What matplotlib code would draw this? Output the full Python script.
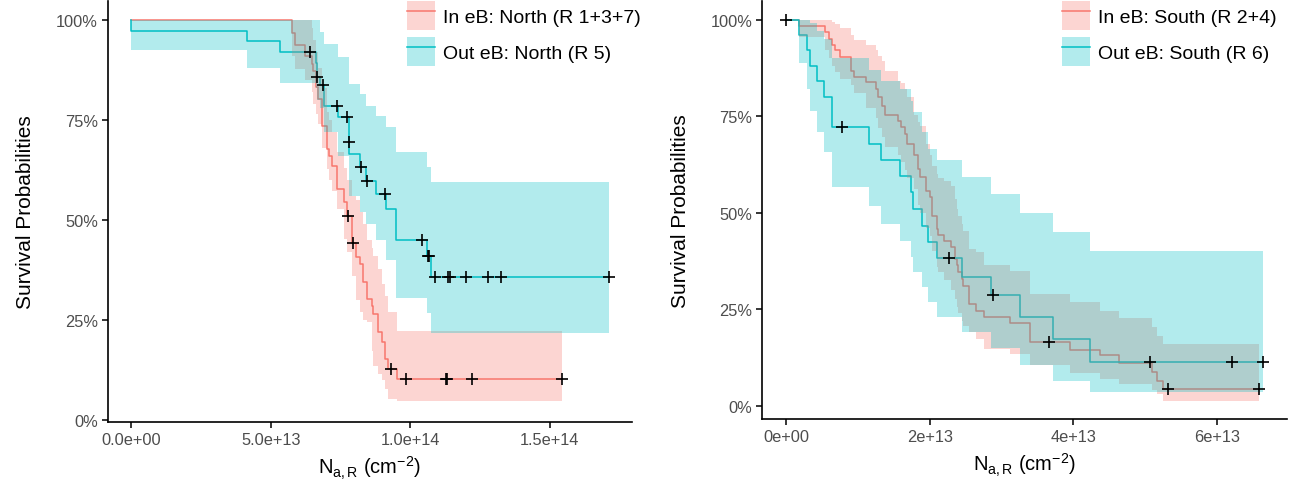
import numpy as np
import matplotlib
matplotlib.use("Agg")
import matplotlib.pyplot as plt
from matplotlib.patches import Patch
from matplotlib.lines import Line2D

plt.rcParams['font.family'] = ['Liberation Sans', 'DejaVu Sans']
plt.rcParams['mathtext.fontset'] = 'custom'
plt.rcParams['mathtext.rm'] = 'Liberation Sans'
plt.rcParams['mathtext.it'] = 'Liberation Sans:italic'

SCALE = 1e13
red = "#F8766D"
teal = "#00BFC4"
tick_grey = "#4D4D4D"

# ---- North panel (x in units of 1e13) ----
n_in_t = [5.75, 5.87, 6.23, 6.47, 6.53, 6.62, 6.70, 6.83, 7.01, 7.10, 7.19, 7.37, 7.63, 7.72, 7.90,
          8.06, 8.20, 8.32, 8.44, 8.62, 8.68, 8.86, 8.98, 9.10, 9.21, 9.52]
n_in_s = [0.967, 0.937, 0.91, 0.889, 0.873, 0.831, 0.802, 0.735, 0.677, 0.66, 0.635, 0.577, 0.544, 0.51, 0.442,
          0.406, 0.39, 0.344, 0.302, 0.286, 0.265, 0.219, 0.194, 0.153, 0.127, 0.102]
n_in_lo = [0.91, 0.877, 0.85, 0.82, 0.79, 0.765, 0.74, 0.68, 0.627, 0.60, 0.573, 0.527, 0.452, 0.42, 0.36,
           0.30, 0.269, 0.25, 0.244, 0.173, 0.136, 0.115, 0.10, 0.077, 0.052, 0.047]
n_in_hi = [1.0, 1.0, 1.0, 0.98, 0.95, 0.92, 0.88, 0.83, 0.77, 0.75, 0.72, 0.67, 0.63, 0.60, 0.56,
           0.55, 0.52, 0.49, 0.45, 0.43, 0.41, 0.377, 0.34, 0.31, 0.27, 0.223]
n_in_end = 15.46
n_in_cens_t = [7.78, 7.94, 9.31, 9.84, 11.29, 11.32, 12.23, 15.46]

n_out_t = [0.0, 4.13, 5.33, 6.62, 6.65, 6.77, 6.91, 7.42, 7.79, 7.82, 8.20, 8.40, 8.77, 9.12, 9.49, 10.60, 10.75]
n_out_s = [0.973, 0.946, 0.919, 0.893, 0.856, 0.838, 0.785, 0.756, 0.694, 0.665, 0.631, 0.598, 0.565, 0.527,
           0.450, 0.409, 0.358]
n_out_lo = [0.924, 0.879, 0.841, 0.83, 0.80, 0.78, 0.72, 0.66, 0.59, 0.56, 0.52, 0.49, 0.45, 0.40,
            0.305, 0.267, 0.217]
n_out_hi = [1.0, 1.0, 1.0, 1.0, 1.0, 0.97, 0.94, 0.906, 0.86, 0.839, 0.814, 0.785, 0.76, 0.731,
            0.669, 0.631, 0.594]
n_out_end = 17.14
n_out_cens_t = [6.41, 6.67, 6.86, 7.37, 7.75, 7.81, 8.24, 8.44, 9.08, 10.44, 10.65, 10.68,
                10.89, 11.37, 11.43, 12.00, 12.81, 13.26, 17.14]

# ---- South panel ----
s_in_t = [0.18, 0.54, 0.60, 0.64, 0.68, 0.75, 0.91, 0.94, 1.11, 1.25, 1.28, 1.33, 1.38, 1.56, 1.60,
          1.66, 1.68, 1.78, 1.84, 1.86, 1.95, 2.01, 2.03, 2.10, 2.12, 2.20, 2.30, 2.35, 2.38, 2.40,
          2.45, 2.47, 2.54, 2.65, 2.76, 3.12, 3.39, 3.95, 4.37, 4.64, 5.09, 5.16, 5.25]
s_in_s = [0.984, 0.969, 0.95, 0.934, 0.92, 0.903, 0.868, 0.851, 0.838, 0.82, 0.799, 0.777, 0.753, 0.738,
          0.721, 0.704, 0.678, 0.648, 0.613, 0.592, 0.557, 0.54, 0.492, 0.458, 0.442, 0.427, 0.41, 0.38,
          0.363, 0.346, 0.328, 0.311, 0.263, 0.246, 0.229, 0.214, 0.164, 0.145, 0.13, 0.11, 0.087,
          0.065, 0.043]
s_in_lo = [0.954, 0.92, 0.90, 0.88, 0.865, 0.846, 0.83, 0.81, 0.77, 0.745, 0.72, 0.695, 0.67, 0.648,
           0.63, 0.61, 0.59, 0.56, 0.52, 0.50, 0.46, 0.44, 0.40, 0.36, 0.345, 0.325, 0.30, 0.275,
           0.255, 0.24, 0.22, 0.205, 0.19, 0.173, 0.147, 0.134, 0.104, 0.085, 0.07, 0.055, 0.04,
           0.03, 0.013]
s_in_hi = [1.0, 1.0, 1.0, 0.995, 0.989, 0.978, 0.959, 0.946, 0.934, 0.92, 0.905, 0.894, 0.868, 0.842,
           0.835, 0.82, 0.80, 0.753, 0.735, 0.725, 0.678, 0.65, 0.62, 0.60, 0.59, 0.583, 0.57, 0.535,
           0.51, 0.492, 0.47, 0.453, 0.406, 0.397, 0.363, 0.35, 0.29, 0.268, 0.246, 0.226, 0.203,
           0.181, 0.16]
s_in_end = 6.58
s_in_cens_t = [3.66, 5.31, 6.58]

s_out_t = [0.18, 0.29, 0.33, 0.43, 0.53, 0.64, 1.16, 1.32, 1.59, 1.74, 1.77, 1.89, 1.97, 2.10,
           2.45, 2.85, 3.26, 3.71, 4.23]
s_out_s = [0.960, 0.92, 0.879, 0.840, 0.799, 0.721, 0.678, 0.635, 0.596, 0.553, 0.51, 0.466, 0.423,
           0.382, 0.334, 0.287, 0.229, 0.172, 0.114]
s_out_lo = [0.888, 0.82, 0.764, 0.708, 0.656, 0.566, 0.518, 0.471, 0.427, 0.384, 0.346, 0.307, 0.268,
            0.229, 0.19, 0.15, 0.105, 0.065, 0.035]
s_out_hi = [1.0, 1.0, 0.99, 0.97, 0.95, 0.90, 0.87, 0.84, 0.82, 0.79, 0.76, 0.71, 0.665, 0.635,
            0.592, 0.548, 0.50, 0.45, 0.40]
s_out_end = 6.64
s_out_cens_t = [0.0, 0.78, 2.27, 2.88, 5.07, 6.21, 6.64]

y_ticks = [0, 0.25, 0.5, 0.75, 1.0]
y_ticklabels = ["0%", "25%", "50%", "75%", "100%"]
n_xticks = [0, 5e13, 1e14, 1.5e14]
n_xticklabels = ["0.0e+00", "5.0e+13", "1.0e+14", "1.5e+14"]
s_xticks = [0, 2e13, 4e13, 6e13]
s_xticklabels = ["0e+00", "2e+13", "4e+13", "6e+13"]


def curve(t, s, lo, hi, end):
    x = np.array([0.0] + list(t) + [end]) * SCALE
    y = np.array([1.0] + list(s) + [s[-1]])
    l = np.array([1.0] + list(lo) + [lo[-1]])
    h = np.array([1.0] + list(hi) + [hi[-1]])
    return x, y, l, h


def surv_at(t, s, x):
    # value of the step curve at censor time x
    val = 1.0
    for ti, si in zip(t, s):
        if ti <= x:
            val = si
    return val


def draw_panel(ax, groups, xlim, ylim, xticks, xticklabels):
    curves = [curve(g['t'], g['s'], g['lo'], g['hi'], g['end']) for g in groups]
    # lines first, ribbons on top (like ggsurvplot)
    for g, (x, y, l, h) in zip(groups, curves):
        ax.step(x, y, where='post', color=g['color'], lw=1.1, zorder=2)
    for g, (x, y, l, h) in zip(groups, curves):
        ax.fill_between(x, l, h, step='post', color=g['color'], alpha=0.3, lw=0, zorder=3)
    for g in groups:
        ct = np.array(g['cens'])
        cy = [surv_at(g['t'], g['s'], c) for c in ct]
        ax.plot(ct * SCALE, cy, ls='none', marker='+', ms=8, mew=1.2, color='black', zorder=4)
    ax.set_xlim(*xlim)
    ax.set_ylim(*ylim)
    ax.set_xticks(xticks)
    ax.set_xticklabels(xticklabels)
    ax.set_yticks(y_ticks)
    ax.set_yticklabels(y_ticklabels)
    for side in ['top', 'right']:
        ax.spines[side].set_visible(False)
    for side in ['left', 'bottom']:
        ax.spines[side].set_linewidth(1.2)
    ax.tick_params(length=4, width=1.1, color='black', labelcolor=tick_grey, labelsize=11.8, pad=3)
    ax.set_ylabel("Survival Probabilities", fontsize=15, labelpad=15)
    ax.set_xlabel(r"N$_{\mathregular{a,R}}$ (cm$^{\mathregular{-2}}$)", fontsize=14.5, labelpad=5)


fig = plt.figure(figsize=(12.94, 4.85), dpi=100)
ax1 = fig.add_axes([0.0832, 0.1278, 0.405, 0.8687])
ax2 = fig.add_axes([0.5891, 0.1330, 0.4053, 0.8635])

north = [
    dict(t=n_in_t, s=n_in_s, lo=n_in_lo, hi=n_in_hi, end=n_in_end, cens=n_in_cens_t, color=red),
    dict(t=n_out_t, s=n_out_s, lo=n_out_lo, hi=n_out_hi, end=n_out_end, cens=n_out_cens_t, color=teal),
]
south = [
    dict(t=s_in_t, s=s_in_s, lo=s_in_lo, hi=s_in_hi, end=s_in_end, cens=s_in_cens_t, color=red),
    dict(t=s_out_t, s=s_out_s, lo=s_out_lo, hi=s_out_hi, end=s_out_end, cens=s_out_cens_t, color=teal),
]

draw_panel(ax1, north, (-0.854e13, 17.95e13), (-0.005, 1.0475), n_xticks, n_xticklabels)
draw_panel(ax2, south, (-0.33e13, 6.969e13), (-0.036, 1.049), s_xticks, s_xticklabels)


def legend(ax, labels, x0):
    handles = [(Patch(facecolor=red, alpha=0.3, lw=0), Line2D([], [], color=red, lw=1.1)),
               (Patch(facecolor=teal, alpha=0.3, lw=0), Line2D([], [], color=teal, lw=1.1))]
    ax.legend(handles, labels, loc='upper left', bbox_to_anchor=(x0 / 1294, 1 - 2.0 / 485),
              bbox_transform=fig.transFigure, frameon=False, fontsize=14,
              handlelength=1.45, handleheight=1.95, labelspacing=0.33, handletextpad=0.42,
              borderpad=0, borderaxespad=0)


legend(ax1, ["In eB: North (R 1+3+7)", "Out eB: North (R 5)"], 407)
legend(ax2, ["In eB: South (R 2+4)", "Out eB: South (R 6)"], 1062)

fig.savefig("out.png", dpi=100)
